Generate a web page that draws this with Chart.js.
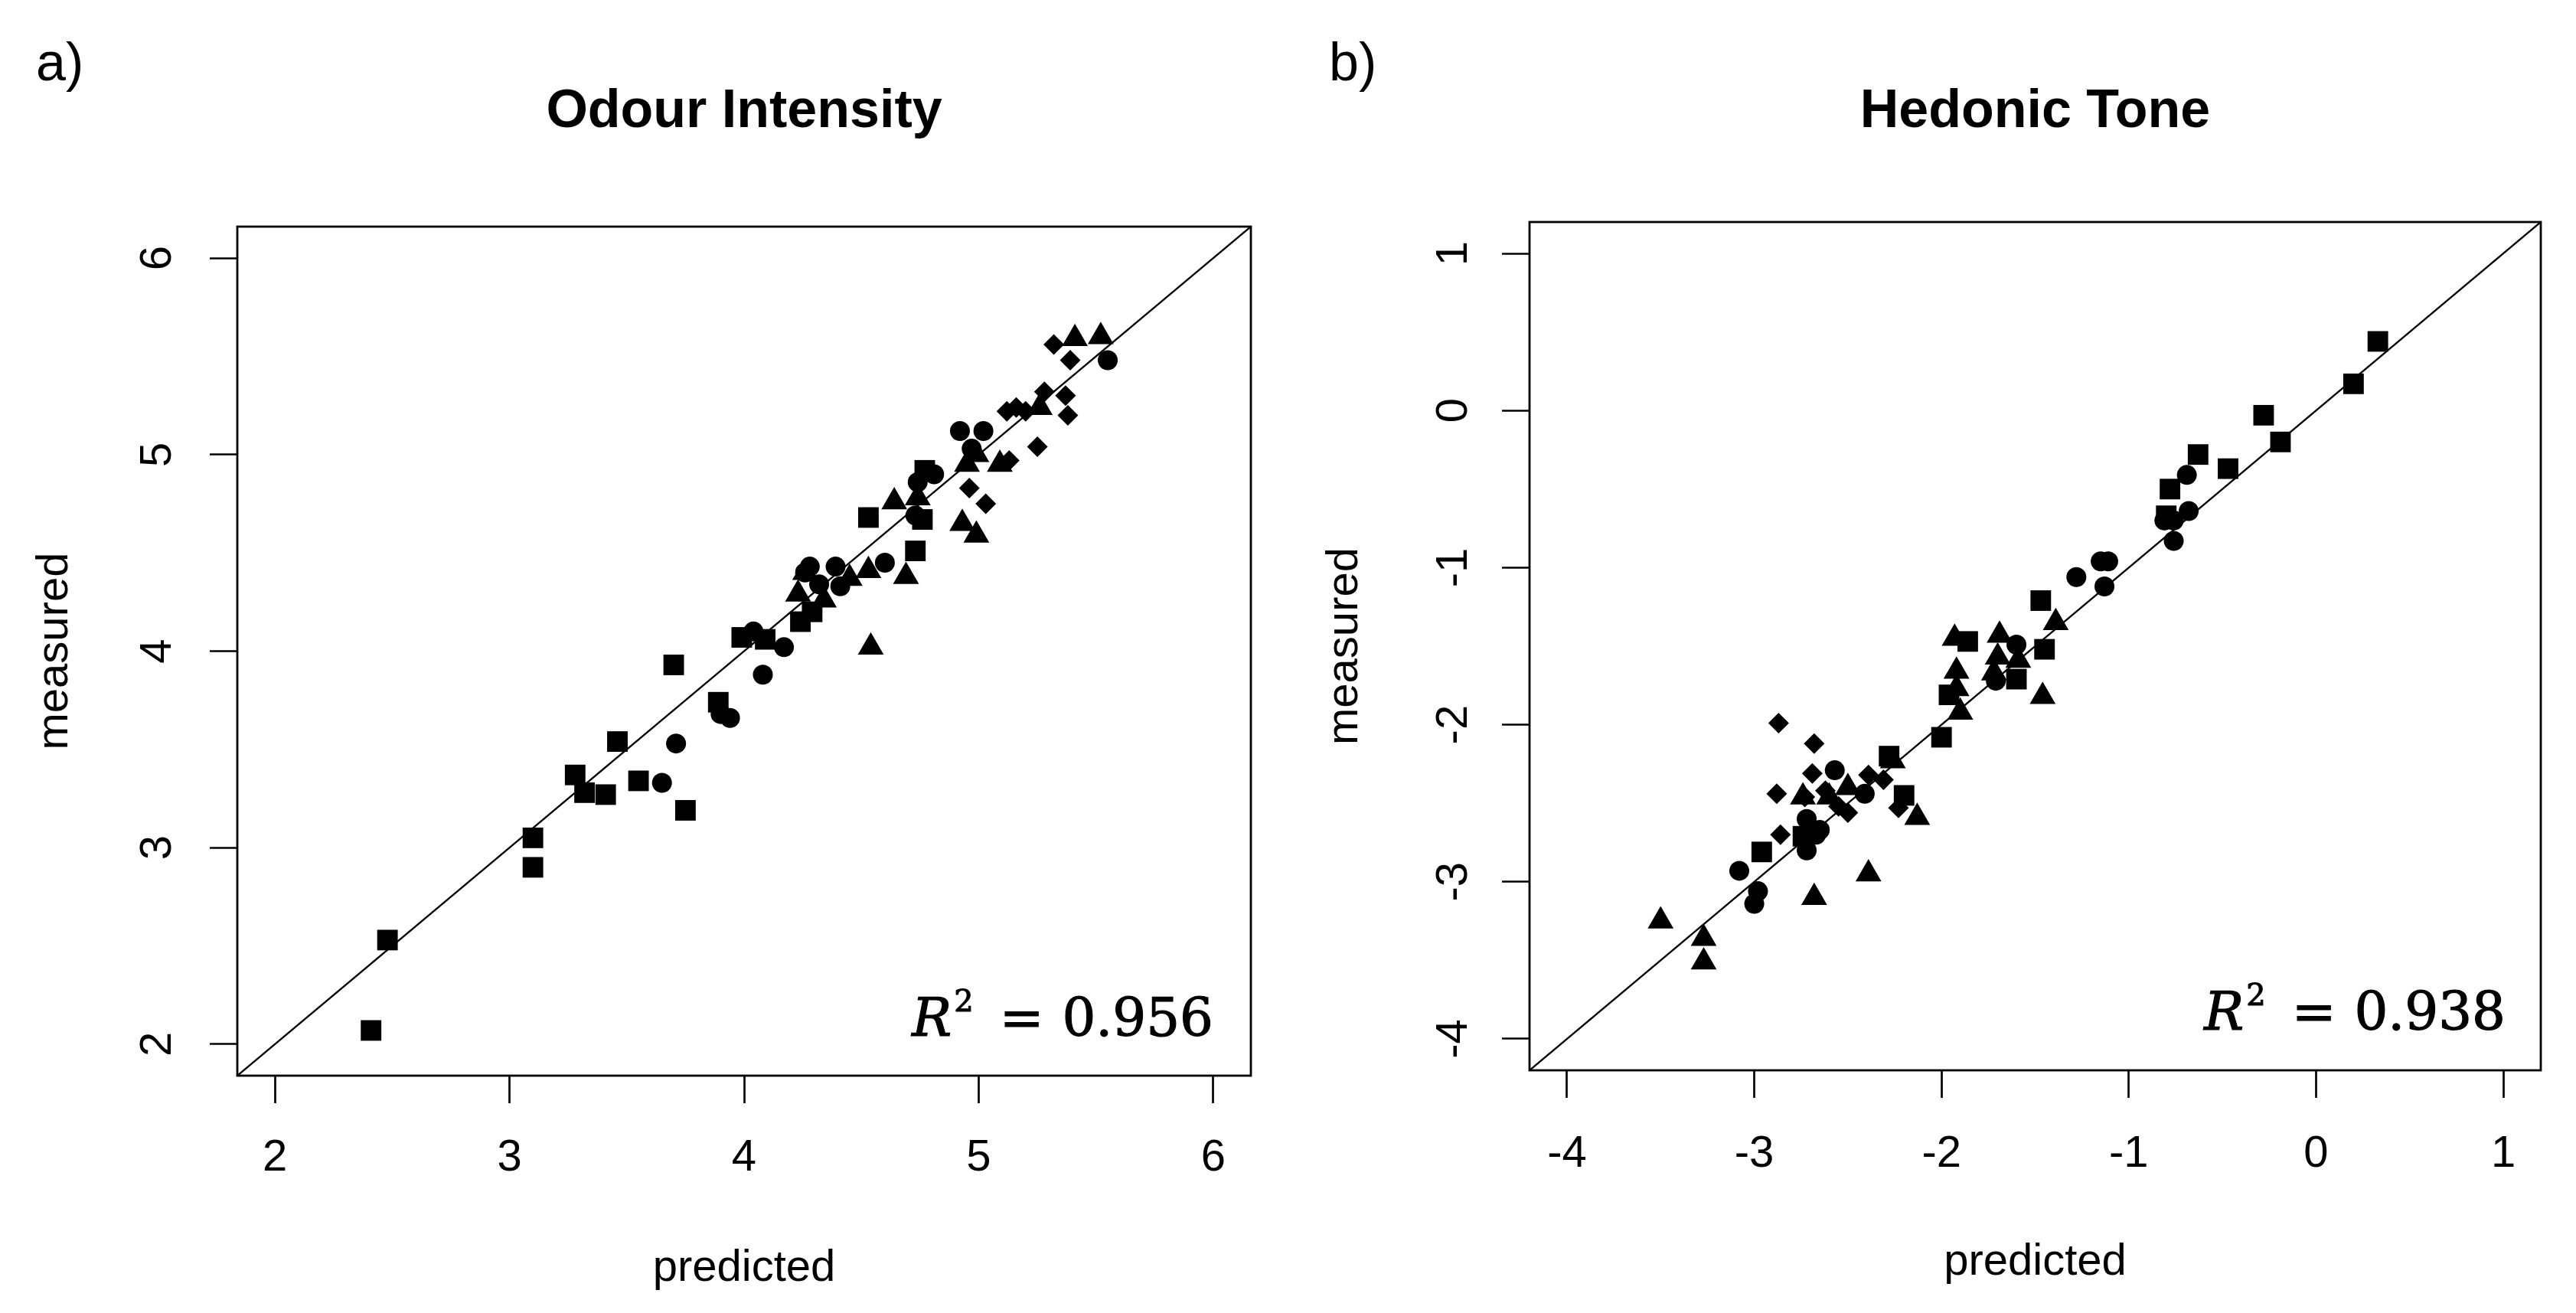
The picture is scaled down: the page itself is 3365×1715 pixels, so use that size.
<!DOCTYPE html>
<html>
<head>
<meta charset="utf-8">
<script src="https://cdn.jsdelivr.net/npm/chart.js@4.4.1/dist/chart.umd.min.js"></script>
<style>
html,body{margin:0;padding:0;background:#fff;width:3365px;height:1715px;overflow:hidden;position:relative;}
canvas{position:absolute;top:0;}
#c1{left:0;width:1682px;height:1715px;}
#c2{left:1682px;width:1683px;height:1715px;}
.tag{position:absolute;font-family:'Liberation Sans',Arial,sans-serif;font-size:70px;line-height:70px;color:#000;white-space:nowrap;}
.r2{position:absolute;font-family:'DejaVu Serif',serif;font-size:69px;line-height:69px;color:#000;white-space:nowrap;-webkit-text-stroke:1.2px #000;}
.r2 .sup{position:relative;top:-32px;font-size:40px;margin-left:3px;}
.r2 .eq{margin-left:34px;margin-right:24px;}
</style>
</head>
<body>
<canvas id="c1" width="1682" height="1715"></canvas>
<canvas id="c2" width="1683" height="1715"></canvas>
<div class="tag" style="left:47px;top:46px;">a)</div>
<div class="tag" style="left:1736px;top:46px;">b)</div>
<div class="r2" id="r2a" style="right:1780px;top:1295px;"><i>R</i><span class="sup">2</span><span class="eq">=</span>0.956</div>
<div class="r2" id="r2b" style="right:92px;top:1287px;"><i>R</i><span class="sup">2</span><span class="eq">=</span>0.938</div>
<script>
// ---------- Odour Intensity (predicted, measured) ----------
const oiSquares = [
  [2.41,2.07],[2.48,2.53],[3.10,3.05],[3.10,2.90],[3.28,3.37],[3.32,3.28],[3.41,3.27],
  [3.46,3.54],[3.55,3.34],[3.75,3.19],[3.70,3.93],[3.89,3.74],[3.99,4.07],[4.09,4.06],
  [4.24,4.15],[4.29,4.20],[4.53,4.68],[4.73,4.51],[4.76,4.67],[4.77,4.92]
];
const oiCircles = [
  [3.65,3.33],[3.71,3.53],[3.90,3.68],[3.94,3.66],[4.04,4.10],[4.08,3.88],[4.17,4.02],
  [4.28,4.43],[4.39,4.43],[4.41,4.33],[4.32,4.34],[4.26,4.40],[4.60,4.45],[4.73,4.69],
  [4.74,4.86],[4.81,4.90],[4.92,5.12],[5.02,5.12],[4.97,5.03],[5.55,5.48]
];
const oiTriangles = [
  [4.54,4.02],[4.23,4.29],[4.26,4.40],[4.34,4.26],[4.45,4.37],[4.53,4.41],[4.69,4.38],
  [4.64,4.76],[4.74,4.78],[4.93,4.65],[4.99,4.59],[4.95,4.95],[5.09,4.95],[4.99,5.00],
  [5.26,5.24],[5.41,5.59],[5.52,5.60]
];
const oiDiamonds = [
  [5.32,5.56],[5.39,5.48],[5.12,5.22],[5.16,5.24],[5.20,5.22],[5.28,5.32],[5.37,5.30],
  [5.38,5.20],[5.25,5.04],[4.96,4.83],[5.03,4.75],[5.13,4.97]
];
const oiTicks = [2, 3, 4, 5, 6];
const oiRange = [1.84, 6.16];

// ---------- Hedonic Tone (predicted, measured) ----------
const htSquares = [
  [0.33,0.44],[0.20,0.17],[-0.28,-0.03],[-0.19,-0.20],[-0.63,-0.28],[-0.47,-0.37],
  [-0.78,-0.50],[-0.80,-0.67],[-1.47,-1.21],[-1.45,-1.52],[-1.60,-1.71],[-1.86,-1.47],
  [-1.96,-1.81],[-2.00,-2.08],[-2.28,-2.20],[-2.20,-2.45],[-2.96,-2.81],[-2.74,-2.71]
];
const htCircles = [
  [-0.69,-0.41],[-0.68,-0.64],[-0.76,-0.83],[-0.81,-0.70],[-0.76,-0.70],[-1.28,-1.06],
  [-1.15,-0.96],[-1.11,-0.96],[-1.13,-1.12],[-1.60,-1.49],[-1.71,-1.72],[-3.08,-2.93],
  [-2.98,-3.06],[-3.00,-3.14],[-2.57,-2.29],[-2.41,-2.44],[-2.72,-2.60],[-2.67,-2.70],
  [-2.72,-2.80],[-2.65,-2.67]
];
const htTriangles = [
  [-3.50,-3.25],[-3.27,-3.36],[-3.27,-3.51],[-2.68,-3.10],[-2.39,-2.95],[-2.13,-2.59],
  [-2.26,-2.23],[-2.50,-2.40],[-1.46,-1.82],[-1.39,-1.35],[-1.69,-1.43],[-1.70,-1.57],
  [-1.72,-1.67],[-1.59,-1.59],[-1.92,-1.66],[-1.92,-1.77],[-1.90,-1.92],[-1.93,-1.45],
  [-2.74,-2.46],[-2.60,-2.46]
];
const htDiamonds = [
  [-2.87,-1.99],[-2.68,-2.12],[-2.69,-2.31],[-2.88,-2.44],[-2.86,-2.70],[-2.39,-2.32],
  [-2.31,-2.35],[-2.50,-2.56],[-2.23,-2.53],[-2.73,-2.46],[-2.62,-2.42],[-2.55,-2.52]
];
const htTicks = [-4, -3, -2, -1, 0, 1];
const htRange = [-4.2, 1.2];

const titles = ['Odour Intensity', 'Hedonic Tone'];
const xLabel = 'predicted';
const yLabel = 'measured';

Chart.defaults.font.family = "'Liberation Sans', Arial, sans-serif";
Chart.defaults.color = '#000';

function pts(arr){ return arr.map(p => ({x: p[0], y: p[1]})); }

const boxPlugin = {
  id: 'rbox',
  afterDraw(chart){
    const a = chart.chartArea, ctx = chart.ctx;
    ctx.save();
    ctx.strokeStyle = '#000';
    ctx.lineWidth = 2.8;
    ctx.strokeRect(a.left, a.top, a.right - a.left, a.bottom - a.top);
    ctx.restore();
  }
};

function makePanel(id, W, area, sets, ticks, range, title, lay){
  const H = 1715;
  const tickOpts = {
    display: true, color: '#000',
    font: {size: 58, lineHeight: 1},
    callback: v => String(v)
  };
  const gridOpts = {
    display: true, drawOnChartArea: false, drawTicks: true,
    tickLength: 36, tickWidth: 2.7, tickColor: '#000', color: '#000'
  };
  const datasets = [
    {label:'squares', data: pts(sets[0]), pointStyle:'rect', pointRadius:19},
    {label:'circles', data: pts(sets[1]), pointStyle:'circle', pointRadius:13},
    {label:'triangles', data: pts(sets[2]), pointStyle:'triangle', pointRadius:19.5},
    {label:'diamonds', data: pts(sets[3]), pointStyle:'rectRot', pointRadius:13.5}
  ].map(d => Object.assign(d, {
    backgroundColor:'#000', borderColor:'#000', borderWidth:0,
    pointBackgroundColor:'#000', pointBorderWidth:0, pointHoverRadius:d.pointRadius, order:1
  }));
  datasets.unshift({
    type:'line', label:'y = x', data: [range[0]-1, range[1]+1].map(v => ({x:v, y:v})),
    showLine:true, borderColor:'#000', borderWidth:2.4, pointRadius:0, fill:false, order:2
  });
  return new Chart(document.getElementById(id), {
    type: 'scatter',
    data: {datasets},
    options: {
      responsive:false, animation:false, devicePixelRatio:1,
      events: [],
      layout: {padding: {left:0, top:0, right: W - area.r, bottom:0}},
      plugins: {
        legend: {display:false}, tooltip: {enabled:false},
        title: {
          display:true, text:title, fullSize:false, align:'center', color:'#000',
          font: {size:70, weight:'bold', lineHeight:1},
          padding: {top: lay.titleTop, bottom: area.t - lay.titleTop - 70}
        }
      },
      scales: {
        x: {
          type:'linear', position:'bottom', min: range[0], max: range[1],
          afterFit(s){ s.height = H - area.b; },
          afterBuildTicks(s){ s.ticks = ticks.map(v => ({value:v})); },
          ticks: Object.assign({}, tickOpts, {padding: lay.xPad, maxRotation:0, minRotation:0}),
          grid: gridOpts, border: {display:false},
          title: {display:true, text:xLabel, color:'#000', font:{size:58, lineHeight:1}, padding:{top:0, bottom: lay.xTitle}}
        },
        y: {
          type:'linear', position:'left', min: range[0], max: range[1],
          afterFit(s){ s.width = area.l; },
          afterBuildTicks(s){ s.ticks = ticks.map(v => ({value:v})); },
          ticks: Object.assign({}, tickOpts, {padding: lay.yPad, minRotation:90, maxRotation:90, crossAlign:'center'}),
          grid: gridOpts, border: {display:false},
          title: {display:true, text:yLabel, color:'#000', font:{size:58, lineHeight:1}, padding:{top: lay.yTitle, bottom:0}}
        }
      }
    },
    plugins: [boxPlugin]
  });
}

makePanel('c1', 1682, {l:310, r:1634, t:296, b:1405},
  [oiSquares, oiCircles, oiTriangles, oiDiamonds], oiTicks, oiRange, titles[0],
  {titleTop:112, xPad:43, xTitle:29, yPad:51, yTitle:43});

makePanel('c2', 1683, {l:316, r:1637, t:290, b:1398},
  [htSquares, htCircles, htTriangles, htDiamonds], htTicks, htRange, titles[1],
  {titleTop:112, xPad:45, xTitle:37, yPad:36, yTitle:46});
</script>
</body>
</html>
